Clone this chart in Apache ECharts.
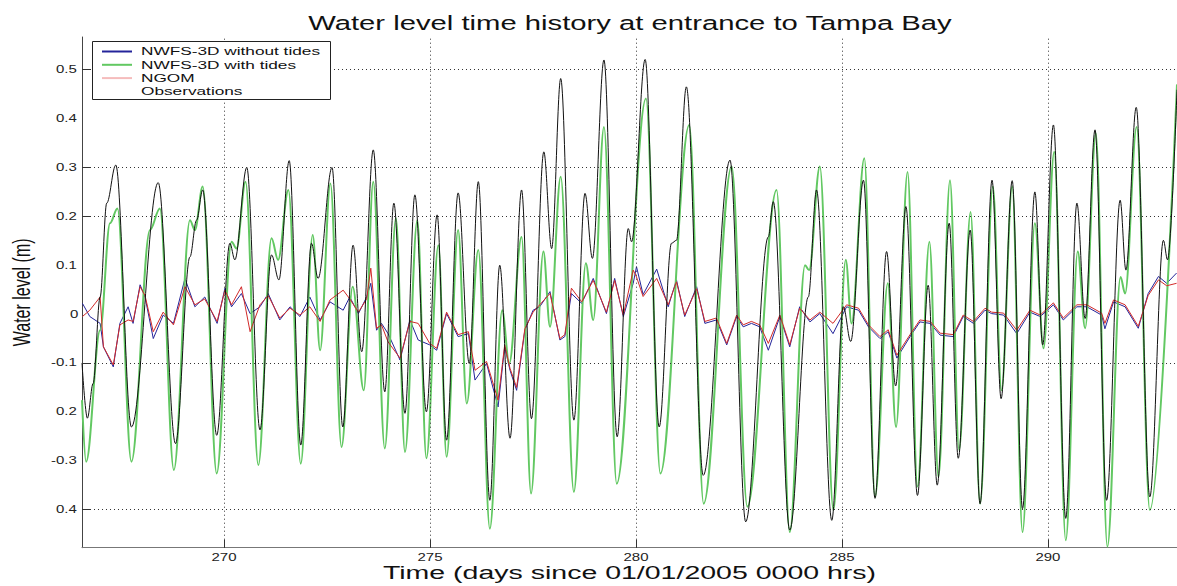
<!DOCTYPE html>
<html><head><meta charset="utf-8">
<script src="https://cdn.jsdelivr.net/npm/echarts@6/dist/echarts.min.js"></script>
<style>html,body{margin:0;padding:0;background:#fff}#c{width:1177px;height:586px}</style>
</head><body><div id="c"></div><script>
const titleText = 'Water level time history at entrance to Tampa Bay';
const xName = 'Time (days since 01/01/2005 0000 hrs)';
const yName = 'Water level (m)';
const seriesNames = ['NWFS-3D without tides', 'NWFS-3D with tides', 'NGOM', 'Observations'];
const xTicks = [270, 275, 280, 285, 290];
const yTicks = [0.5, 0.4, 0.3, 0.2, 0.1, 0, -0.1, -0.2, -0.3, -0.4];
const yTickLabels = ['0.5', '0.4', '0.3', '0.2', '0.1', '0', '-0.1', '0.2', '-0.3', '0.4'];
const yGrid = [0.5, 0.3, 0.2, -0.1, -0.4];

// Observations (black)
const obsT = [266.55,266.68,266.82,266.99,267.15,267.37,267.75,268.40,268.82,269.17,269.33,269.48,269.82,270.14,270.26,270.55,270.87,271.15,271.33,271.58,271.86,272.12,272.28,272.62,272.88,273.13,273.34,273.62,273.90,274.12,274.39,274.63,274.91,275.17,275.40,275.68,275.95,276.17,276.45,276.69,276.94,277.22,277.46,277.76,277.95,278.17,278.49,278.76,278.94,279.22,279.54,279.81,279.89,280.22,280.56,280.86,280.98,281.22,281.63,282.28,282.66,283.21,283.33,283.73,284.18,284.38,284.75,285.03,285.21,285.52,285.80,286.08,286.30,286.55,286.83,287.09,287.31,287.60,287.82,288.11,288.35,288.64,288.86,289.13,289.38,289.68,289.87,290.13,290.43,290.70,290.90,291.14,291.42,291.75,291.89,292.14,292.47,292.80,292.90,293.13];
const obsV = [-0.10,-0.213,-0.142,0.035,0.227,0.305,-0.231,0.269,-0.265,0.117,0.192,0.254,-0.248,0.145,0.111,0.300,-0.237,0.121,0.070,0.314,-0.268,0.145,0.073,0.300,-0.231,0.141,-0.077,0.336,-0.159,0.227,-0.203,0.244,-0.200,0.203,-0.258,0.248,-0.101,0.271,-0.381,0.100,-0.254,0.254,-0.214,0.332,0.134,0.482,-0.217,0.247,0.114,0.520,-0.251,0.175,0.148,0.521,-0.231,0.145,0.151,0.465,-0.330,0.315,-0.425,0.158,0.230,-0.442,0.035,0.254,-0.422,0.015,-0.056,0.274,-0.377,0.128,-0.147,0.220,-0.371,0.059,-0.350,0.186,-0.295,0.172,-0.388,0.274,-0.173,0.273,-0.398,0.250,-0.063,0.387,-0.418,0.227,-0.009,0.377,-0.381,0.233,0.090,0.423,-0.374,0.151,0.111,0.459];

// NWFS-3D with tides (green)
const tidT = [266.55,266.65,266.99,267.23,267.41,267.75,268.20,268.44,268.78,269.17,269.29,269.48,269.82,270.18,270.30,270.52,270.83,271.15,271.31,271.56,271.86,272.15,272.33,272.58,272.85,273.12,273.39,273.62,273.90,274.17,274.39,274.69,274.91,275.20,275.40,275.68,275.89,276.17,276.45,276.75,276.92,277.22,277.45,277.75,277.91,278.17,278.49,278.78,278.96,279.22,279.53,280.24,280.59,281.29,281.64,282.32,282.70,283.41,283.73,284.10,284.20,284.46,284.79,285.09,285.23,285.54,285.80,286.11,286.31,286.59,286.83,287.12,287.34,287.62,287.84,288.12,288.35,288.66,288.87,289.13,289.38,289.68,289.89,290.15,290.43,290.72,290.90,291.16,291.44,291.76,291.87,292.15,292.47,293.13];
const tidV = [-0.176,-0.302,-0.033,0.186,0.216,-0.302,0.172,0.216,-0.319,0.192,0.172,0.261,-0.326,0.148,0.134,0.271,-0.309,0.155,0.111,0.254,-0.306,0.162,-0.074,0.267,-0.272,0.056,-0.156,0.271,-0.275,0.196,-0.282,0.192,-0.295,0.141,-0.292,0.172,-0.183,0.131,-0.439,0.008,-0.101,0.158,-0.367,0.128,-0.026,0.281,-0.364,0.104,-0.012,0.383,-0.347,0.441,-0.326,0.387,-0.388,0.302,-0.394,0.254,-0.446,0.100,0.090,0.302,-0.401,0.111,-0.019,0.319,-0.374,0.063,-0.231,0.291,-0.353,0.148,-0.333,0.274,-0.278,0.209,-0.388,0.261,-0.156,0.261,-0.446,0.186,-0.070,0.332,-0.463,0.128,-0.029,0.370,-0.476,0.076,0.042,0.383,-0.401,0.470];

// Non-tidal runs: NWFS-3D without tides (blue) and NGOM (red)
const ntT = [266.56,266.74,266.99,267.07,267.31,267.47,267.67,267.79,267.96,268.08,268.28,268.52,268.77,269.05,269.29,269.53,269.83,270.02,270.18,270.42,270.63,270.87,271.07,271.35,271.60,271.84,272.08,272.33,272.57,272.89,273.05,273.26,273.46,273.56,273.70,273.82,273.98,274.27,274.51,274.71,274.99,275.16,275.40,275.68,275.93,276.09,276.37,276.65,276.81,276.94,277.10,277.30,277.50,277.66,277.91,278.15,278.27,278.43,278.68,278.96,279.28,279.48,279.69,279.93,280.01,280.17,280.50,280.78,280.98,281.18,281.47,281.67,281.95,282.20,282.44,282.60,282.80,283.00,283.21,283.49,283.73,283.97,284.22,284.46,284.78,285.11,285.40,285.64,285.92,286.12,286.33,286.65,286.89,287.14,287.38,287.70,287.94,288.19,288.47,288.63,288.92,289.24,289.56,289.81,290.13,290.37,290.70,290.94,291.30,291.38,291.59,291.87,292.19,292.43,292.68,292.88,293.12];
const blueV = [0.022,-0.005,-0.019,-0.067,-0.108,-0.019,0.015,-0.019,0.060,0.035,-0.050,-0.002,-0.019,0.073,0.015,0.035,-0.019,0.053,0.015,0.042,0.001,0.015,0.042,-0.012,0.015,-0.005,0.035,-0.012,0.025,0.008,0.035,0.001,0.035,0.063,-0.033,-0.019,-0.040,-0.094,-0.012,-0.053,-0.063,-0.074,0.001,-0.046,-0.040,-0.135,-0.101,-0.190,-0.067,-0.115,-0.156,-0.033,0.008,0.015,0.046,-0.053,-0.046,0.042,0.022,0.073,0.001,0.073,-0.005,0.063,0.097,0.040,0.092,0.015,0.070,-0.005,0.056,-0.019,-0.012,-0.063,-0.005,-0.026,-0.019,-0.026,-0.074,-0.005,-0.067,0.015,-0.016,0.001,-0.040,0.015,0.008,-0.026,-0.050,-0.036,-0.090,-0.046,-0.016,-0.019,-0.043,-0.046,-0.005,-0.019,0.008,0.001,-0.002,-0.040,0.004,-0.005,0.019,-0.012,0.015,0.015,-0.002,-0.030,0.025,0.015,-0.029,0.042,0.077,0.063,0.084];
const redV = [-0.005,0.008,0.035,-0.067,-0.104,-0.022,-0.012,-0.015,0.056,0.038,-0.036,0.004,-0.022,0.056,0.019,0.031,-0.015,0.049,0.019,0.056,-0.036,0.019,0.038,-0.008,0.012,-0.002,0.015,-0.015,0.029,0.049,0.031,0.004,0.031,0.094,-0.029,-0.022,-0.057,-0.090,-0.015,-0.019,-0.060,-0.070,0.004,-0.042,-0.036,-0.115,-0.097,-0.176,-0.063,-0.111,-0.150,-0.030,0.004,0.019,0.042,-0.050,-0.042,0.053,0.025,0.069,0.004,0.069,-0.002,0.090,0.076,0.036,0.073,0.019,0.066,-0.002,0.052,-0.015,-0.008,-0.060,-0.002,-0.022,-0.015,-0.022,-0.060,-0.002,-0.063,0.012,-0.012,0.004,-0.019,0.019,0.012,-0.022,-0.046,-0.032,-0.084,-0.042,-0.012,-0.015,-0.039,-0.042,-0.002,-0.015,0.012,0.004,0.002,-0.033,0.008,-0.002,0.023,-0.008,0.019,0.019,0.002,-0.019,0.029,0.019,-0.025,0.038,0.070,0.058,0.063];

const zip = (t, v) => t.map((x, i) => [x, v[i]]);
const FONT = 'Liberation Sans, Arial, Helvetica, sans-serif';

const chart = echarts.init(document.getElementById('c'), null, {renderer: 'svg'});
const option = {
  animation: false,
  backgroundColor: '#fff',
  title: {
    text: titleText, left: 630, top: 13, padding: 0, textAlign: 'center',
    textStyle: {fontFamily: FONT, fontSize: 19.5, fontWeight: 'normal', color: '#111'}
  },
  grid: {left: 82, right: 0, top: 37, bottom: 38.3, containLabel: false, outerBoundsMode: 'none'},
  xAxis: {
    type: 'value', min: 266.55, max: 293.13,
    name: xName, nameLocation: 'middle', nameGap: 15, nameMoveOverlap: false,
    nameTextStyle: {fontFamily: FONT, fontSize: 19, color: '#111'},
    axisLine: {onZero: false, lineStyle: {color: '#777', width: 1}},
    axisTick: {inside: true, length: 8, customValues: xTicks, lineStyle: {color: '#333'}},
    axisLabel: {customValues: xTicks, margin: 5, fontFamily: FONT, fontSize: 10, color: '#222', formatter: v => String(v)},
    splitLine: {show: false}
  },
  yAxis: {
    type: 'value', min: -0.478, max: 0.567,
    name: yName, nameLocation: 'middle', nameGap: 52,
    nameTextStyle: {fontFamily: FONT, fontSize: 16, color: '#111'},
    axisLine: {show: true, onZero: false, lineStyle: {color: '#444', width: 1}},
    axisTick: {show: true, inside: true, length: 9, customValues: yGrid, lineStyle: {color: '#333'}},
    axisLabel: {customValues: yTicks, margin: 5, fontFamily: FONT, fontSize: 10, color: '#222',
      formatter: v => { const i = yTicks.findIndex(t => Math.abs(t - v) < 1e-6); return i >= 0 ? yTickLabels[i] : ''; }},
    splitLine: {show: false}
  },
  legend: {
    data: [
      {name: seriesNames[0]},
      {name: seriesNames[1]},
      {name: seriesNames[2], lineStyle: {color: '#f5bcbc'}},
      {name: seriesNames[3], lineStyle: {opacity: 0}}
    ],
    orient: 'vertical', left: 101, top: 45.5, padding: 0,
    itemWidth: 30, itemHeight: 10, itemGap: 1.3, selectedMode: false, z: 110,
    itemStyle: {opacity: 0},
    textStyle: {fontFamily: FONT, fontSize: 11.5, color: '#111', lineHeight: 10, padding: [0, 0, 0, 4]}
  },
  graphic: [{
    type: 'rect', z: 100,
    shape: {x: 92.5, y: 41.5, width: 238, height: 58},
    style: {fill: '#fff', stroke: '#222', lineWidth: 1}
  }],
  series: [
    {
      name: 'grid lines', type: 'line', data: [], symbol: 'none', silent: true, z: 1,
      markLine: {
        silent: true, symbol: ['none', 'none'], label: {show: false}, animation: false,
        lineStyle: {type: [1, 3], color: '#333', width: 1},
        emphasis: {disabled: true},
        data: xTicks.map(v => ({xAxis: v})).concat(yGrid.map(v => ({yAxis: v})))
      }
    },
    {
      name: seriesNames[0], type: 'line', data: zip(ntT, blueV), symbol: 'none', showSymbol: false, color: '#24249a',
      lineStyle: {color: '#24249a', width: 1}, silent: true
    },
    {
      name: seriesNames[1], type: 'line', data: zip(tidT, tidV), symbol: 'none', showSymbol: false, color: '#62c862',
      smooth: 0.35, smoothMonotone: 'x', lineStyle: {color: '#62c862', width: 2}, silent: true
    },
    {
      name: seriesNames[2], type: 'line', data: zip(ntT, redV), symbol: 'none', showSymbol: false, color: '#d22a2a',
      lineStyle: {color: '#d22a2a', width: 1}, silent: true
    },
    {
      name: seriesNames[3], type: 'line', data: zip(obsT, obsV), symbol: 'none', showSymbol: false, color: '#111',
      smooth: 0.35, smoothMonotone: 'x', lineStyle: {color: '#111', width: 1}, silent: true
    }
  ]
};
chart.setOption(option);

// The reference figure is horizontally stretched (~1.5x); reproduce by stretching text glyphs on screen x.
const S = 1.5;
function stretchTexts() {
  const svg = document.querySelector('#c svg');
  if (!svg) return;
  const base = svg.getBoundingClientRect();
  svg.querySelectorAll('text').forEach(t => {
    const cur = t.getAttribute('transform') || '';
    if (cur.indexOf('scale(' + S + ',1)') >= 0) return;
    const r = t.getBoundingClientRect();
    if (!r.width) return;
    const anchor = t.getAttribute('text-anchor') || 'start';
    let ax;
    if (r.height > r.width || anchor === 'middle') ax = (r.left + r.right) / 2;
    else if (anchor === 'end') ax = r.right;
    else ax = r.left;
    ax -= base.left;
    t.setAttribute('transform', 'translate(' + ax + ' 0) scale(' + S + ',1) translate(' + (-ax) + ' 0) ' + cur);
  });
}
stretchTexts();
requestAnimationFrame(stretchTexts);
setTimeout(stretchTexts, 50);
setTimeout(stretchTexts, 300);
</script></body></html>
